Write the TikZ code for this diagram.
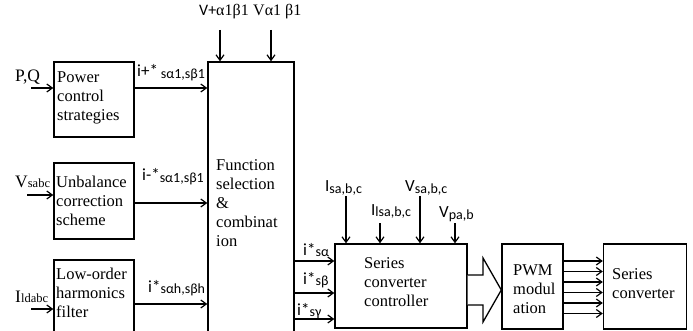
\documentclass[tikz,border=0pt]{standalone}
\usepackage{fontspec}
\setmainfont{Liberation Serif}
\newfontfamily\calib{Carlito}
\usetikzlibrary{arrows.meta}
\newcommand\fl{\rule{0pt}{12pt}}
\newcommand\bigf{\fontsize{16.5}{19}\selectfont}
\newcommand\subf{\fontsize{12.5}{13}\selectfont}
\newcommand\ssub[1]{\raisebox{-1.5pt}{\fontsize{14}{14}\selectfont #1}}
\tikzset{
  blk/.style={draw, line width=1.4pt, inner sep=0pt},
  arr/.style={line width=1.2pt, -{Straight Barb[length=5.5pt,width=8pt,line width=1.2pt]}},
  txt/.style={anchor=north west, inner sep=0pt, align=left, font=\bigf},
  lbl/.style={anchor=base west, inner sep=0pt, font=\fontsize{17.5}{18}\selectfont},
  slbl/.style={anchor=base west, inner sep=0pt, font=\fontsize{17}{18}\selectfont\calib},
}
\begin{document}
\begin{tikzpicture}[x=1pt,y=-1pt]
\clip (0,0) rectangle (693,331);
\fill[white] (0,0) rectangle (693,331);
% boxes
\node[blk, minimum width=80pt, minimum height=75pt] (pcs) at (94,99.5) {};
\node[blk, minimum width=80pt, minimum height=76pt] (ucs) at (94,201) {};
\node[blk, minimum width=80pt, minimum height=90pt] (lhf) at (94,305) {};
\node[blk, minimum width=86pt, minimum height=290pt] (fsc) at (251,207) {};
\node[blk, minimum width=132pt, minimum height=84pt] (scc) at (401,286) {};
\node[blk, minimum width=61pt, minimum height=85pt] (pwm) at (532.5,286.5) {};
\node[blk, minimum width=83pt, minimum height=85pt] (sc) at (645,286.5) {};
% box texts
\node[txt] (tpcs) at (57,70) {\fl Power\\control\\strategies};
\node[txt] (tucs) at (56,175) {\fl Unbalance\\correction\\scheme};
\node[txt] (tlhf) at (56,267) {\fl Low-order\\harmonics\\filter};
\node[txt] (tfsc) at (216,158) {\fl Function\\selection\\\&\\combinat\\ion};
\node[txt] (tscc) at (364,256) {\fl Series\\converter\\controller};
\node[txt] (tpwm) at (513,263) {\fl PWM\\modul\\ation};
\node[txt] (tsc) at (612,267) {\fl Series\\converter};
% left inputs
\node[lbl] (lpq) at (15,82) {P,Q};
\node[lbl] (lv) at (15,188) {V{\subf sabc}};
\node[lbl] (li) at (15,302) {I{\subf ldabc}};
\coordinate (cpq) at (31,88);
\coordinate (cv) at (27,195);
\coordinate (ci) at (31,309);
\draw[arr] (cpq) -- (cpq -| pcs.west);
\draw[arr] (cv) -- (cv -| ucs.west);
\draw[arr] (ci) -- (ci -| lhf.west);
% to function block
\coordinate (o1) at (134,88);
\coordinate (o2) at (134,203);
\coordinate (o3) at (134,304);
\draw[arr] (o1) -- (o1 -| fsc.west);
\draw[arr] (o2) -- (o2 -| fsc.west);
\draw[arr] (o3) -- (o3 -| fsc.west);
\node[slbl] (l1) at (137,77) {i+*\,\ssub{sα1,sβ1}};
\node[slbl] (l2) at (142,181) {i-*\ssub{sα1,sβ1}};
\node[slbl] (l3) at (148,292) {i*\ssub{sαh,sβh}};
% top of function block
\node[anchor=base west, inner sep=0pt, font=\fontsize{16}{16}\selectfont] (tv1) at (199,16) {{\calib V+}α1β1};
\node[anchor=base west, inner sep=0pt, font=\fontsize{16}{16}\selectfont] (tv2) at (253,16) {Vα1 β1};
\coordinate (t1) at (220,30);
\coordinate (t2) at (271,30);
\draw[arr] (t1) -- (t1 |- fsc.north);
\draw[arr] (t2) -- (t2 |- fsc.north);
% function block to controller
\coordinate (f1) at (294,261);
\coordinate (f2) at (294,293);
\coordinate (f3) at (294,319);
\draw[arr] (f1) -- (f1 -| scc.west);
\draw[arr] (f2) -- (f2 -| scc.west);
\draw[arr] (f3) -- (f3 -| scc.west);
\node[slbl] (la) at (303,255) {i*\ssub{sα}};
\node[slbl] (lb) at (303,284) {i*\ssub{sβ}};
\node[slbl] (lg) at (297,315) {i*\ssub{sγ}};
% controller top inputs
\node[slbl] (q1) at (325,192) {I\ssub{sa,b,c}};
\node[slbl] (q2) at (371,215) {I\ssub{lsa,b,c}};
\node[slbl] (q3) at (405,192) {V\ssub{sa,b,c}};
\node[slbl] (q4) at (439,218) {V\ssub{pa,b}};
\coordinate (c1) at (346,196);
\coordinate (c2) at (380,223);
\coordinate (c3) at (420,196);
\coordinate (c4) at (455,223);
\foreach \c in {c1,c2,c3,c4} \draw[arr] (\c) -- (\c |- scc.north);
% hollow arrow
\draw[line width=1.3pt, fill=white, line join=miter]
  (scc.east |- 0,275) -- (483,275) -- (483,258) -- (pwm.west |- 0,290) -- (483,322) -- (483,305) -- (scc.east |- 0,305);
% PWM to series converter
\foreach \y in {261,271.5,282,292.5,303,313.5} {
  \draw[arr] (pwm.east |- 0,\y) -- (sc.west |- 0,\y);
}
\end{tikzpicture}
\end{document}
